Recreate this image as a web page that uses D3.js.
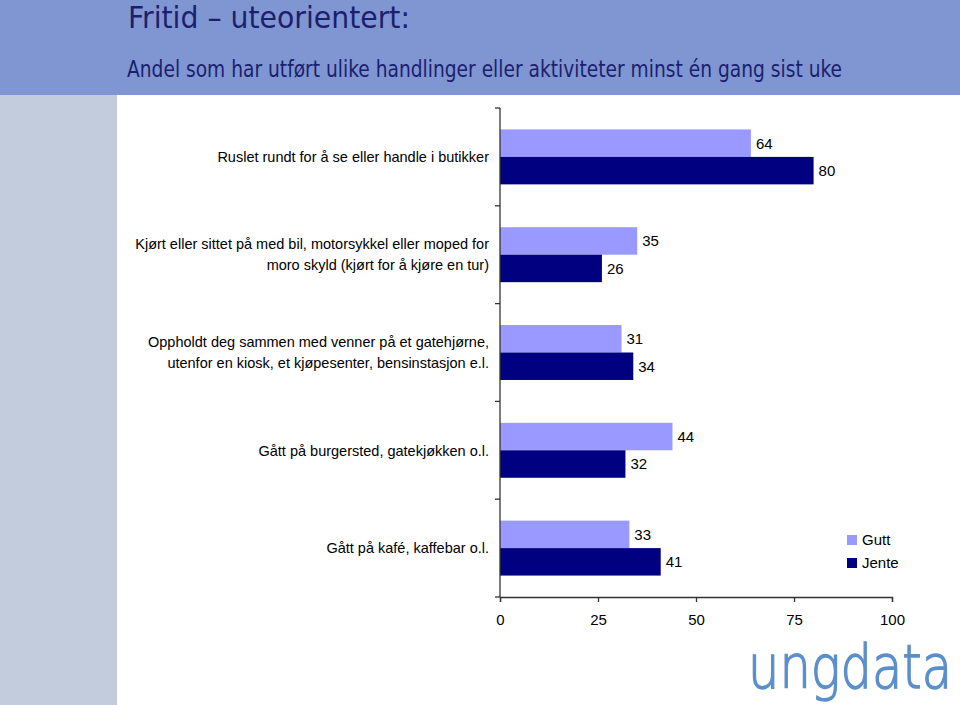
<!DOCTYPE html>
<html><head><meta charset="utf-8">
<script src="https://cdn.jsdelivr.net/npm/d3@7"></script>
<style>body{margin:0;background:#fff}svg{display:block}</style>
</head><body>
<script>
const categories = [
  ["Ruslet rundt for å se eller handle i butikker"],
  ["Kjørt eller sittet på med bil, motorsykkel eller moped for","moro skyld (kjørt for å kjøre en tur)"],
  ["Oppholdt deg sammen med venner på et gatehjørne,","utenfor en kiosk, et kjøpesenter, bensinstasjon e.l."],
  ["Gått på burgersted, gatekjøkken o.l."],
  ["Gått på kafé, kaffebar o.l."]
];
const seriesNames = ["Gutt","Jente"];
const gutt = [64,35,31,44,33];
const jente = [80,26,34,32,41];
const tickValues = [0,25,50,75,100];
const colors = ["#9999FF","#000080"];

const W=960,H=705;
const svg=d3.select("body").append("svg").attr("width",W).attr("height",H);
svg.append("rect").attr("x",0).attr("y",0).attr("width",W).attr("height",H).attr("fill","#fff");
svg.append("rect").attr("x",0).attr("y",95).attr("width",117).attr("height",H-95).attr("fill","#C2CCDD");
svg.append("rect").attr("x",0).attr("y",0).attr("width",W).attr("height",95).attr("fill","#8096D2");
svg.append("text").attr("x",128).attr("y",28).attr("font-family","DejaVu Sans Condensed, DejaVu Sans").attr("font-size",31)
  .attr("fill","#1B1F6E").attr("textLength",282).attr("lengthAdjust","spacingAndGlyphs").text("Fritid – uteorientert:");
svg.append("text").attr("x",127).attr("y",77).attr("font-family","DejaVu Sans Condensed, DejaVu Sans").attr("font-size",22.5)
  .attr("fill","#1B1F6E").attr("textLength",715).attr("lengthAdjust","spacingAndGlyphs").text("Andel som har utført ulike handlinger eller aktiviteter minst én gang sist uke");

const x=d3.scaleLinear().domain([0,100]).range([500,892]);
const y=d3.scaleBand().domain(d3.range(categories.length)).range([108,597]).paddingInner(0).paddingOuter(0);
const inner=d3.scaleBand().domain([0,1]).range([0,y.bandwidth()]).paddingOuter(0.78).paddingInner(0);

const data=categories.map((c,i)=>({i,vals:[gutt[i],jente[i]]}));
const g=svg.append("g");
data.forEach(d=>{
  d.vals.forEach((v,s)=>{
    const by=y(d.i)+inner(s);
    g.append("rect").attr("x",x(0)).attr("y",by).attr("width",x(v)-x(0)).attr("height",inner.bandwidth()).attr("fill",colors[s]);
    g.append("text").attr("x",x(v)+5).attr("y",by+inner.bandwidth()/2).attr("dy","0.36em")
      .attr("font-family","Liberation Sans, Arial").attr("font-size",15).attr("fill","#000").text(v);
  });
  const cy=y(d.i)+y.bandwidth()/2;
  const lines=categories[d.i];
  lines.forEach((l,k)=>{
    g.append("text").attr("x",489).attr("y",cy+(k-(lines.length-1)/2)*21).attr("dy","0.36em").attr("text-anchor","end")
      .attr("font-family","Liberation Sans, Arial").attr("font-size",14.5).attr("fill","#000").text(l);
  });
});

// y axis line and ticks at band boundaries
const yb=d3.range(categories.length+1).map(i=>108+i*y.step());
svg.append("line").attr("x1",500).attr("x2",500).attr("y1",108).attr("y2",597).attr("stroke","#333").attr("stroke-width",1.3);
yb.forEach(v=>svg.append("line").attr("x1",495).attr("x2",500).attr("y1",v).attr("y2",v).attr("stroke","#333").attr("stroke-width",1.3));

const xa=svg.append("g").attr("transform","translate(0,597)").call(d3.axisBottom(x).tickValues(tickValues).tickSize(5).tickPadding(12));
xa.select(".domain").attr("stroke","#333").attr("stroke-width",1.3);
xa.selectAll(".tick line").attr("stroke","#333").attr("stroke-width",1.3);
xa.selectAll(".tick text").attr("font-family","Liberation Sans, Arial").attr("font-size",15).attr("fill","#000");

// legend
seriesNames.forEach((n,i)=>{
  const ly=535+i*23;
  svg.append("rect").attr("x",847).attr("y",ly).attr("width",10).attr("height",10).attr("fill",colors[i]);
  svg.append("text").attr("x",862).attr("y",ly+5).attr("dy","0.36em").attr("font-family","Liberation Sans, Arial").attr("font-size",15).attr("fill","#000").text(n);
});

// logo (horizontally squeezed via transform so its box stays inside the canvas)
const logoG=svg.append("g");
const logo=logoG.append("text").attr("x",0).attr("y",0).attr("font-family","DejaVu Sans").attr("font-weight",200).attr("font-size",60)
  .attr("fill","#5B8FCB").attr("stroke","#5B8FCB").attr("stroke-width",1.4).text("ungdata");
const natural=logo.node().getComputedTextLength();
logoG.attr("transform",`translate(748,688) scale(${204/natural},1)`);
</script>
</body></html>
